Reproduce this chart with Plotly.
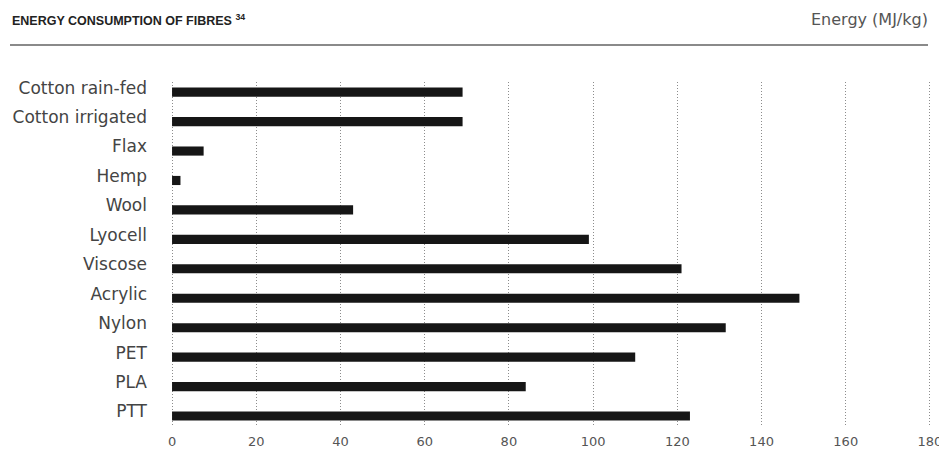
import plotly.graph_objects as go

categories = ["Cotton rain-fed", "Cotton irrigated", "Flax", "Hemp", "Wool", "Lyocell",
              "Viscose", "Acrylic", "Nylon", "PET", "PLA", "PTT"]
energy = [69, 69, 7.5, 2, 43, 99, 121, 149, 131.5, 110, 84, 123]
x_ticks = [0, 20, 40, 60, 80, 100, 120, 140, 160, 180]

positions = list(range(len(categories)))

# page body has an 8px margin, so the figure starts at (8, 8) in the window
OFF = 8
W, H = 947 - 2 * OFF, 460 - 2 * OFF
L, T = 171 - OFF, 82 - OFF
R = (W + OFF) - 931
B = (H + OFF) - 425
PW, PH = W - L - R, H - T - B

def px(xscreen):
    return (xscreen - OFF - L) / PW

def py(yscreen):
    return (H - B - (yscreen - OFF)) / PH

fig = go.Figure()
fig.add_trace(go.Bar(
    x=energy, y=positions, orientation="h",
    width=0.31, offset=0.0,
    marker=dict(color="#161616", line=dict(width=0)),
    hoverinfo="skip",
))

label_font = "'DejaVu Sans', sans-serif"

fig.update_layout(
    width=W, height=H,
    margin=dict(l=L, r=R, t=T, b=B, autoexpand=False),
    paper_bgcolor="white", plot_bgcolor="white",
    showlegend=False,
    font=dict(family=label_font, color="#444444", size=14),
    xaxis=dict(
        range=[-0.25, 180.25], tickvals=x_ticks, ticktext=[str(v) for v in x_ticks],
        showgrid=True, gridcolor="#8c8c8c", griddash="1px,2px", gridwidth=1,
        zeroline=False, showline=False, ticks="", automargin=False,
        ticklabelstandoff=7, ticklabeloverflow="allow",
        tickfont=dict(family=label_font, size=13, color="#555555"),
    ),
    yaxis=dict(
        range=[11.46, -0.19], tickvals=positions, ticktext=categories,
        showgrid=False, zeroline=False, showline=False, ticks="", automargin=False,
        ticklabelstandoff=23,
        tickfont=dict(family=label_font, size=17, color="#444444"),
    ),
    shapes=[dict(type="line", xref="paper", yref="paper",
                 x0=px(10), x1=px(928), y0=py(45), y1=py(45),
                 line=dict(color="#8a8a8a", width=2))],
    annotations=[
        dict(text="<b>ENERGY CONSUMPTION OF FIBRES</b> <sup><b>34</b></sup>",
             xref="paper", yref="paper", x=px(12), y=py(20),
             xanchor="left", yanchor="middle", showarrow=False,
             xshift=-2,
             font=dict(family="'Liberation Sans', Arial, sans-serif", size=12.5, color="#222222")),
        dict(text="Energy (MJ/kg)",
             xref="paper", yref="paper", x=px(928), y=py(20),
             xanchor="right", yanchor="middle", showarrow=False,
             xshift=2,
             font=dict(family=label_font, size=16, color="#555555")),
    ],
)

fig.write_html("out.html")
